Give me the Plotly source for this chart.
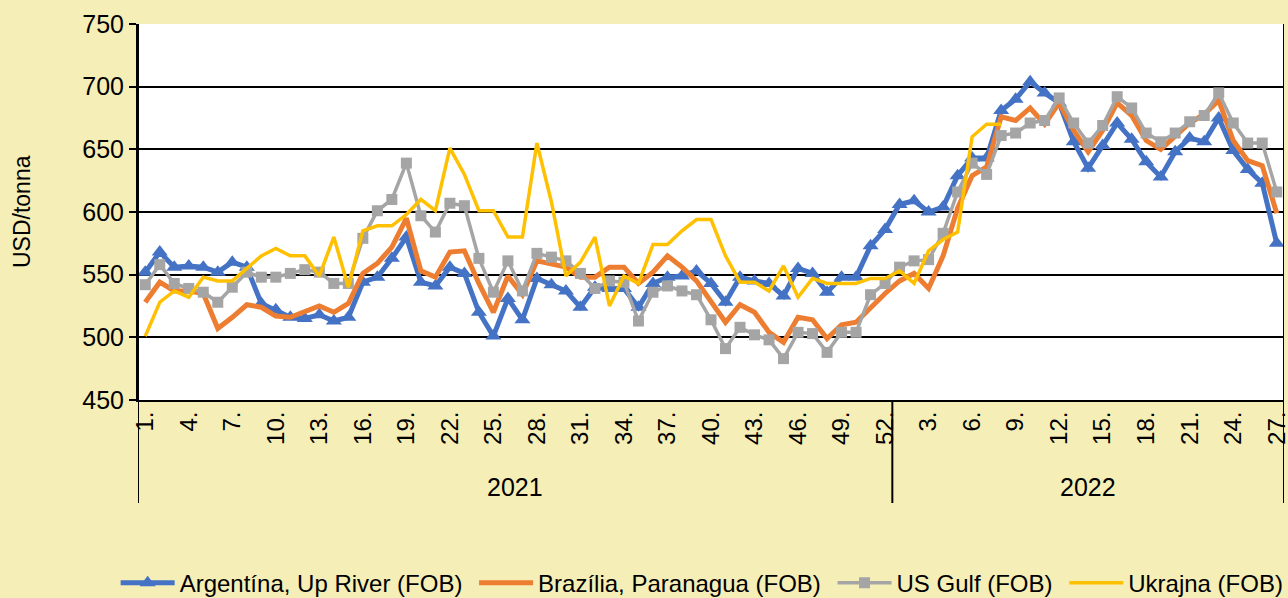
import plotly.graph_objects as go

# ---- data ----
years = ["2021"] * 52 + ["2022"] * 27
weeks = list(range(1, 53)) + list(range(1, 28))

argentina = [552, 568, 556, 557, 556, 552, 560, 556, 527, 522, 516, 515, 518, 513, 516, 544, 548, 563, 580, 544,
             541, 556, 551, 520, 501, 531, 514, 547, 542, 537, 524, 540, 539, 539, 524, 543, 548, 549, 553, 543,
             528, 548, 545, 543, 533, 555, 551, 536, 548, 548, 573, 586,
             606, 609, 600, 604, 629, 643, 643, 681, 690, 704, 695, 687, 656, 635, 653, 671, 658, 640, 628, 648,
             659, 656, 675, 649, 634, 623, 575]
brazil = [528, 544, 537, 537, 535, 507, 516, 526, 524, 517, 516, 520, 525, 520, 527, 551, 559, 572, 595, 553,
          548, 568, 569, 543, 520, 549, 534, 561, 559, 556, 548, 548, 556, 556, 543, 552, 565, 556, 545, 528,
          512, 526, 520, 504, 496, 516, 514, 499, 510, 512, 524, 535,
          545, 551, 539, 565, 603, 629, 636, 676, 673, 683, 670, 687, 665, 648, 665, 687, 677, 657, 650, 660,
          671, 678, 689, 657, 641, 637, 599]
us_gulf = [542, 558, 543, 539, 536, 528, 540, 552, 548, 548, 551, 554, 552, 543, 543, 579, 601, 610, 639, 597,
           584, 607, 605, 563, 536, 561, 537, 567, 564, 561, 551, 539, 545, 544, 513, 536, 541, 537, 534, 514,
           491, 508, 502, 498, 483, 504, 503, 488, 504, 504, 534, 543,
           556, 561, 562, 583, 616, 639, 630, 661, 663, 671, 673, 691, 671, 655, 669, 692, 683, 663, 656, 663,
           672, 677, 695, 671, 655, 655, 616]
ukraine = [501, 528, 537, 532, 548, 545, 545, 555, 565, 571, 565, 565, 549, 580, 540, 585, 589, 589, 598, 610,
           601, 651, 630, 601, 601, 580, 580, 655, 608, 549, 560, 580, 525, 549, 543, 574, 574, 585, 594, 594,
           565, 544, 544, 537, 557, 532, 547, 543, 543, 543, 547, 547,
           553, 543, 569, 578, 584, 660, 670, 670] + [None] * 19

series_names = ["Argentína, Up River (FOB)", "Brazília, Paranagua (FOB)", "US Gulf (FOB)", "Ukrajna (FOB)"]
y_ticks = [450, 500, 550, 600, 650, 700, 750]

# ---- figure ----
n = len(weeks)
xs = list(range(1, n + 1))
tick_idx = [i for i in xs if (i - 1) % 3 == 0]
tick_txt = [f"{weeks[i - 1]}." for i in tick_idx]

FONT = "Liberation Sans, Arial, sans-serif"
BG = "#F5EEB6"
PAD = "\u00a0"  # small trailing space to match legend entry spacing

fig = go.Figure()
fig.add_trace(go.Scatter(x=xs, y=argentina, name=series_names[0] + PAD, mode="lines+markers",
                         line=dict(color="#4472C4", width=5),
                         marker=dict(symbol="triangle-up", size=14, color="#4472C4")))
fig.add_trace(go.Scatter(x=xs, y=brazil, name=series_names[1] + PAD, mode="lines",
                         line=dict(color="#ED7D31", width=5)))
fig.add_trace(go.Scatter(x=xs, y=us_gulf, name=series_names[2] + PAD, mode="lines+markers",
                         line=dict(color="#A5A5A5", width=3.5),
                         marker=dict(symbol="square", size=11, color="#A5A5A5")))
fig.add_trace(go.Scatter(x=xs, y=ukraine, name=series_names[3], mode="lines",
                         line=dict(color="#FFC000", width=3.5), connectgaps=False))

# year group labels
for yr in ["2021", "2022"]:
    idx = [i for i in xs if years[i - 1] == yr]
    mid = (idx[0] + idx[-1]) / 2
    fig.add_annotation(x=mid, y=-0.231, xref="x", yref="paper", text=yr, showarrow=False,
                       xanchor="center", yanchor="middle",
                       font=dict(size=25, color="black", family=FONT))

# dividers
bounds = [0.5, 52.5, n + 0.5]
for b in bounds:
    y_top = 1 if b in (0.5, n + 0.5) else 0
    fig.add_shape(type="line", x0=b, x1=b, y0=-0.274, y1=y_top, xref="x", yref="paper",
                  line=dict(color="black", width=2))

fig.add_annotation(x=-0.1012, y=0.5, xref="paper", yref="paper", text="USD/tonna", textangle=-90,
                   showarrow=False, xanchor="center", yanchor="middle",
                   font=dict(size=23, color="black", family=FONT))

fig.update_layout(
    width=1288, height=598,
    margin=dict(l=138, r=4, t=24, b=198, autoexpand=False),
    paper_bgcolor=BG, plot_bgcolor="white",
    font=dict(family=FONT, size=24, color="black"),
    showlegend=True,
    legend=dict(orientation="h", x=-0.0195, xanchor="left", y=-0.487, yanchor="middle",
                font=dict(size=24, color="black", family=FONT), bgcolor="rgba(0,0,0,0)",
                itemwidth=54, traceorder="normal"),
    xaxis=dict(range=[0.5, n + 0.5], tickmode="array", tickvals=tick_idx, ticktext=tick_txt,
               tickangle=-90, showgrid=False, zeroline=False, showline=True, linecolor="black",
               linewidth=2, ticks="", ticklabeloverflow="allow", tickfont=dict(size=24, color="black")),
    yaxis=dict(range=[450, 750], tickvals=y_ticks, ticksuffix="\u00a0\u00a0", showgrid=True,
               gridcolor="black", gridwidth=2,
               zeroline=False, showline=True, linecolor="black", linewidth=2, ticks="outside",
               ticklen=7, tickwidth=2, tickcolor="black", tickfont=dict(size=25, color="black")),
)

fig.write_html("out.html", config={"displayModeBar": False},
               post_script="document.body.style.margin='0px';document.body.style.overflow='hidden';")
